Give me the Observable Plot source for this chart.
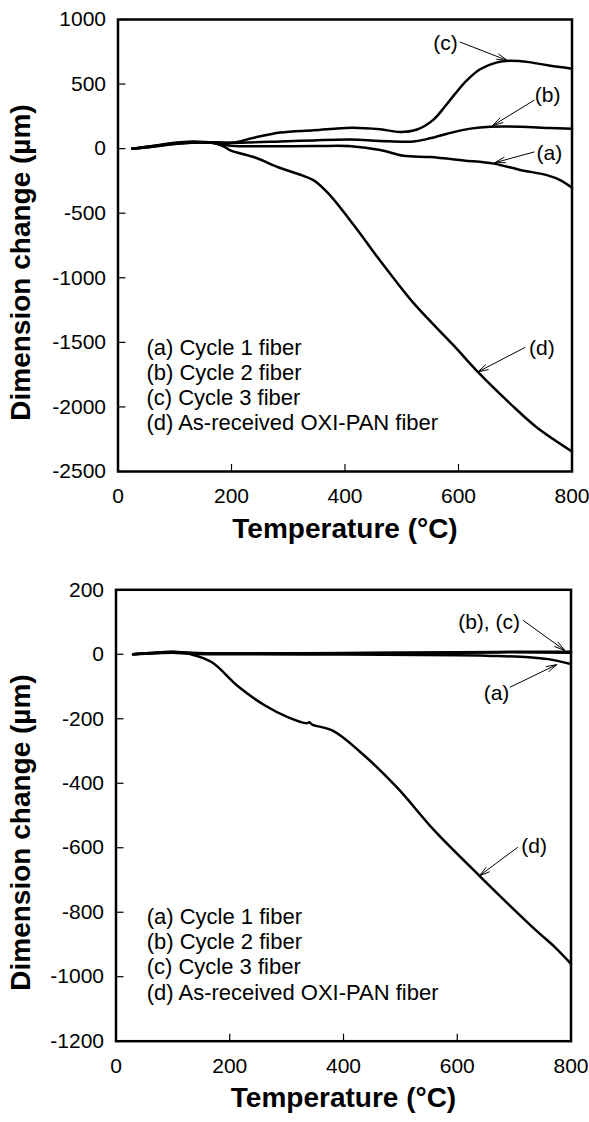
<!DOCTYPE html>
<html>
<head>
<meta charset="utf-8">
<script src="https://cdn.jsdelivr.net/npm/d3@7"></script>
<script src="https://cdn.jsdelivr.net/npm/@observablehq/plot@0.6"></script>
<style>
  html, body { margin: 0; padding: 0; background: white; }
  #chart svg { display: block; }
</style>
</head>
<body>
<div id="chart"></div>
<script>
// ---------- data ----------
const xTicks = [0, 200, 400, 600, 800];
const topYTicks = [1000, 500, 0, -500, -1000, -1500, -2000, -2500];
const botYTicks = [200, 0, -200, -400, -600, -800, -1000, -1200];

const legendLines = [
  "(a) Cycle 1 fiber",
  "(b) Cycle 2 fiber",
  "(c) Cycle 3 fiber",
  "(d) As-received OXI-PAN fiber"
];

// Top panel: [temperature °C, dimension change µm]
const topCycle1 = [[25,0],[60,15],[100,35],[130,45],[165,45],[200,22],[258,18],[350,20],[411,19],[462,-10],[503,-55],[550,-65],[609,-91],[662,-116],[709,-165],[757,-207],[780,-245],[800,-302]];
const topCycle2 = [[25,0],[60,18],[100,42],[130,50],[165,48],[200,45],[286,55],[345,64],[411,70],[462,59],[521,55],[550,80],[580,116],[621,155],[656,170],[709,170],[760,160],[800,155]];
const topCycle3 = [[25,0],[60,20],[100,45],[130,55],[165,50],[200,45],[240,85],[286,125],[345,142],[411,162],[462,150],[497,129],[527,148],[556,225],[575,320],[595,430],[615,530],[638,615],[668,668],[690,680],[724,670],[757,645],[800,619]];
const topAsRecv = [[25,0],[60,15],[100,38],[130,48],[165,45],[185,20],[198,-13],[239,-65],[286,-150],[320,-200],[345,-246],[371,-349],[418,-607],[457,-840],[484,-994],[524,-1212],[591,-1522],[634,-1729],[691,-1974],[737,-2155],[800,-2345]];

// Bottom panel
const botCycle1 = [[30,0],[70,3],[100,5],[130,2],[200,0],[400,-1],[600,-3],[660,-5],[726,-9],[760,-15],[800,-30]];
const botCycle2 = [[30,0],[70,4],[100,7],[130,4],[200,2],[400,3],[600,5],[700,6],[800,5]];
const botCycle3 = [[30,0],[70,5],[100,8],[130,5],[200,3],[400,4],[600,6],[700,8],[800,8]];
const botAsRecv = [[30,0],[60,4],[90,7],[110,6],[132,0],[168,-24],[215,-100],[262,-159],[302,-195],[335,-214],[340,-211],[345,-218],[381,-237],[427,-299],[494,-413],[560,-547],[639,-687],[693,-780],[739,-857],[772,-909],[800,-960]];

// Annotations (data coordinates)
const topLabels = [
  {label: "(c)", x: 577, y: 813},
  {label: "(b)", x: 757, y: 412},
  {label: "(a)", x: 760, y: -39},
  {label: "(d)", x: 747, y: -1548}
];
const topArrows = [
  {x1: 603, y1: 825, x2: 686, y2: 683},
  {x1: 733, y1: 374, x2: 660, y2: 178},
  {x1: 733, y1: -26, x2: 664, y2: -109},
  {x1: 717, y1: -1540, x2: 634, y2: -1729}
];
const botLabels = [
  {label: "(b), (c)", x: 656, y: 100},
  {label: "(a)", x: 669, y: -121},
  {label: "(d)", x: 735, y: -594}
];
const botArrows = [
  {x1: 716, y1: 105, x2: 789, y2: 12},
  {x1: 693, y1: -102, x2: 775, y2: -32},
  {x1: 706, y1: -599, x2: 639, y2: -687}
];

// ---------- drawing ----------
const FONT = "'Liberation Sans', Arial, Helvetica, sans-serif";

function rowsOf(named) {
  const rows = [];
  for (const [s, pts] of Object.entries(named)) for (const [T, V] of pts) rows.push({s, T, V});
  return rows;
}

function panel({series, yDomain, yTicks, labels, arrows, legendAt, ml, mr, mt, mb}) {
  const rows = rowsOf(series);
  return Plot.plot({
    width: 589,
    height: 561,
    marginLeft: ml,
    marginRight: mr,
    marginTop: mt,
    marginBottom: mb,
    style: {fontFamily: FONT, fontSize: "21px", color: "black", background: "white", overflow: "visible"},
    x: {domain: [0, 800]},
    y: {domain: yDomain},
    marks: [
      Plot.axisX(xTicks, {tickSize: -7, tickFormat: () => "", strokeWidth: 1.2, label: null}),
      Plot.axisY(yTicks, {tickSize: -8, tickFormat: () => "", strokeWidth: 1.2, label: null}),
      Plot.axisX(xTicks, {tickSize: 0, tickPadding: 17, tickFormat: d => String(d), label: null, fontSize: 21}),
      Plot.axisY(yTicks, {tickSize: 0, tickPadding: 12, tickFormat: d => String(d), label: null, fontSize: 21}),
      Plot.line(rows, {x: "T", y: "V", z: "s", stroke: "black", strokeWidth: 2.5, curve: "catmull-rom"}),
      Plot.frame({stroke: "black", strokeWidth: 2.5}),
      Plot.arrow(arrows, {x1: "x1", y1: "y1", x2: "x2", y2: "y2", stroke: "black", strokeWidth: 1, headLength: 16, headAngle: 30}),
      Plot.text(labels, {x: "x", y: "y", text: "label", fontSize: 21}),
      Plot.text([legendLines.join("\n")], {x: legendAt[0], y: legendAt[1], textAnchor: "start", lineAnchor: "top", lineHeight: 1.15, fontSize: 22}),
      Plot.text(["Temperature (°C)"], {frameAnchor: "bottom", dy: 66, fontSize: 28, fontWeight: "bold"}),
      Plot.text(["Dimension change (µm)"], {frameAnchor: "left", textAnchor: "middle", rotate: -90, dx: 21 - ml, dy: 17, fontSize: 28, fontWeight: "bold"})
    ]
  });
}

const topPanel = panel({
  series: {a: topCycle1, b: topCycle2, c: topCycle3, d: topAsRecv},
  yDomain: [-2500, 1000], yTicks: topYTicks,
  labels: topLabels, arrows: topArrows, legendAt: [50, -1455],
  ml: 117.5, mr: 17.5, mt: 19, mb: 90
});
const bottomPanel = panel({
  series: {a: botCycle1, b: botCycle2, c: botCycle3, d: botAsRecv},
  yDomain: [-1200, 200], yTicks: botYTicks,
  labels: botLabels, arrows: botArrows, legendAt: [54, -780],
  ml: 115.5, mr: 18.5, mt: 28.3, mb: 81.3
});
document.getElementById("chart").append(topPanel, bottomPanel);
</script>
</body>
</html>
